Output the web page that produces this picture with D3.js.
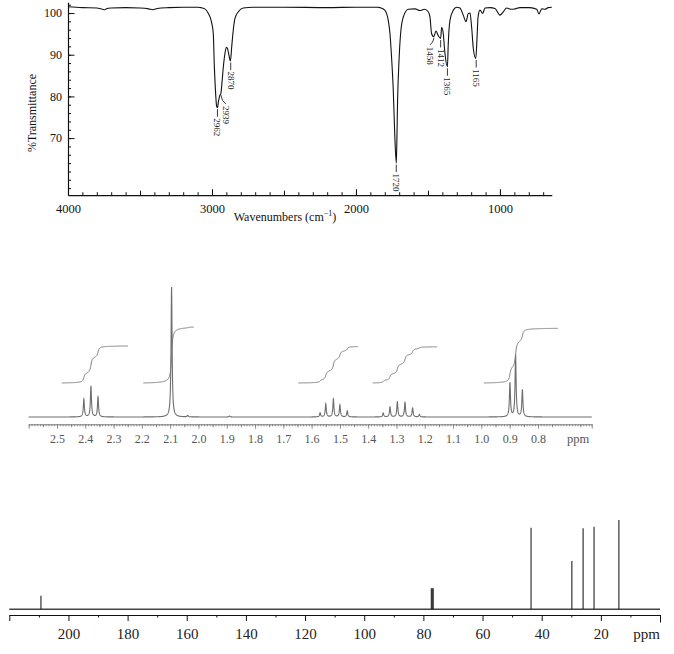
<!DOCTYPE html>
<html><head><meta charset="utf-8">
<script src="https://cdn.jsdelivr.net/npm/d3@7"></script>
<style>
body{margin:0;background:#fff}
svg{display:block}
text{font-family:"Liberation Serif","Times New Roman",serif}
</style>
</head><body>
<svg id="c" width="674" height="654"></svg>
<script>
// ---------------- DATA ----------------
// IR spectrum: [wavenumber cm-1, %T]
const irSpectrum = [
 [4000,101.5],[3900,101.3],[3800,101.2],[3760,100.9],[3745,100.8],[3730,101.1],[3700,101.2],
 [3600,101.3],[3500,101.2],[3440,101.0],[3410,100.8],[3380,101.1],[3300,101.3],[3200,101.4],
 [3100,101.4],[3080,101.3],[3050,101.0],[3025,99.9],[3010,98.7],[3000,97.3],[2991,95.1],
 [2984,87.5],[2975,80.9],[2968,77.7],[2962,77.3],[2955,78.8],[2945,80.3],[2939,80.6],
 [2930,83.5],[2921,87.1],[2910,90.3],[2900,91.8],[2892,91.5],[2884,90.2],[2872,88.5],
 [2863,91.9],[2852,96.0],[2840,98.8],[2817,100.3],[2783,101.2],[2713,101.4],[2500,101.4],
 [2200,101.3],[2000,101.4],[1850,101.4],[1833,101.3],[1800,100.7],[1776,98.3],[1764,95.1],
 [1753,89.5],[1741,81.5],[1731,71.1],[1720,64.0],[1716,69.5],[1711,79.1],[1701,88.7],
 [1690,95.1],[1671,99.1],[1637,100.9],[1590,101.0],[1556,100.6],[1525,100.9],[1498,100.3],
 [1486,99.0],[1475,95.1],[1460,94.3],[1444,95.7],[1429,94.6],[1412,93.9],[1405,96.6],
 [1394,95.1],[1382,90.3],[1365,87.1],[1359,92.7],[1347,98.3],[1324,100.7],[1301,101.4],
 [1278,101.2],[1255,99.5],[1236,97.9],[1220,99.9],[1208,100.0],[1197,96.7],[1185,91.5],
 [1168,89.1],[1160,93.5],[1152,99.1],[1139,100.7],[1120,99.9],[1104,101.2],[1069,101.3],
 [1035,101.1],[1000,99.5],[977,100.3],[954,101.2],[919,100.9],[896,101.0],[861,101.3],
 [792,101.3],[745,100.9],[729,99.8],[710,101.0],[688,100.9],[665,101.3],[640,101.4]
];
const irPeakLabels = [2962, 2939, 2870, 1720, 1458, 1412, 1365, 1165];
const irPeakT      = [77.3, 80.6, 88.5, 64.0, 94.3, 93.9, 87.1, 89.1];
const irXTickLabels = [4000, 3000, 2000, 1000];
const irYTickLabels = [100, 90, 80, 70];

// 1H NMR: peak positions (ppm) and relative intensities
const hPpm = [2.405,2.380,2.355,2.095,2.038,1.890,1.570,1.550,1.523,1.500,1.474,
              1.347,1.323,1.297,1.270,1.243,1.219,0.899,0.879,0.855];
const hInt = [13.8,23.8,15.4,100,1.2,0.7,3.1,10,13.8,9.2,4.6,
              3.1,7.7,11.5,11.5,6.9,1.9,26,47.7,20.8];
// integral traces: ppm range and start / end levels (same intensity units)
const hIntegralFrom  = [2.483, 2.195, 1.647, 1.384, 0.991];
const hIntegralTo    = [2.249, 2.016, 1.436, 1.156, 0.729];
const hIntegralStart = [26.2, 26.2, 26.2, 26.2, 26.2];
const hIntegralEnd   = [54.6, 69.2, 54.2, 54.0, 68.2];
const hTickLabels = [2.5,2.4,2.3,2.2,2.1,2.0,1.9,1.8,1.7,1.6,1.5,1.4,1.3,1.2,1.1,1.0,0.9,0.8];

// 13C NMR
const cPpm = [209.3, 77.32, 77.0, 76.68, 43.6, 29.8, 26.0, 22.3, 13.9];
const cInt = [15.2, 23.5, 23.5, 23.5, 91.4, 54.1, 90.7, 92.5, 100];
const cTickLabels = [200,180,160,140,120,100,80,60,40,20];

// ---------------- DRAW ----------------
const svg = d3.select("#c");
const serif = '"Liberation Serif","Times New Roman",serif';

function styleAxis(g, color, size, textColor){
  g.attr("font-family", serif).attr("font-size", size);
  g.selectAll("line").attr("stroke", color);
  g.selectAll("path").attr("stroke", color);
  g.selectAll("text").attr("fill", textColor || color);
}

// ===== IR =====
const irX = d3.scaleLinear().domain([4000, 640]).range([68, 551.8]);
const irY = d3.scaleLinear().domain([56.3, 102.6]).range([195.2, 2.2]);
const gIR = svg.append("g");

const ax100 = d3.range(3900, 640, -100);
const ax500 = d3.range(3500, 640, -500);
// x axis
const irXa = gIR.append("g").attr("transform", `translate(0,${irY(56.3)})`);
irXa.append("g").call(d3.axisBottom(irX).tickValues(ax100).tickSize(-3).tickSizeOuter(0).tickFormat(""))
    .call(g=>styleAxis(g,"#111",12));
irXa.append("g").call(d3.axisBottom(irX).tickValues(ax500).tickSize(-4.5).tickSizeOuter(0).tickFormat(""))
    .call(g=>{g.select(".domain").remove(); styleAxis(g,"#111",12);});
irXa.append("g").call(d3.axisBottom(irX).tickValues(irXTickLabels).tickSize(-6).tickSizeOuter(0).tickPadding(9).tickFormat(d3.format("d")))
    .call(g=>{g.select(".domain").remove(); styleAxis(g,"#111",12.5);});
irXa.selectAll("path.domain").attr("stroke-width",1.2);

// y axis
const irYa = gIR.append("g").attr("transform", `translate(${irX(4000)},0)`);
irYa.append("g").call(d3.axisLeft(irY).tickValues(d3.range(58, 103, 2)).tickSize(-3).tickSizeOuter(0).tickFormat(""))
    .call(g=>styleAxis(g,"#111",12));
irYa.append("g").call(d3.axisLeft(irY).tickValues(irYTickLabels).tickSize(-6.5).tickSizeOuter(0).tickPadding(6).tickFormat(d3.format("d")))
    .call(g=>{g.select(".domain").remove(); styleAxis(g,"#111",12);});
irYa.selectAll("path.domain").attr("stroke-width",1.2);

// spectrum
const irPts = irSpectrum.map(d=>[irX(d[0]), irY(d[1])]).sort((a,b)=>a[0]-b[0]);
gIR.append("path").attr("d", d3.line().curve(d3.curveMonotoneX)(irPts))
   .attr("fill","none").attr("stroke","#111").attr("stroke-width",1.1);

// peak labels
const irLabelNudge = {2939:[5,12], 1458:[-4,10]};
irPeakLabels.forEach((wn,i)=>{
  const x = irX(wn), y = irY(irPeakT[i]);
  const n = irLabelNudge[wn] || [0,10.5];
  if (n[0] === 0) {
    gIR.append("line").attr("x1",x).attr("x2",x).attr("y1",y+1.5).attr("y2",y+n[1]-1.5)
       .attr("stroke","#222").attr("stroke-width",0.9);
  } else {
    gIR.append("path").attr("d",`M${x},${y+1}Q${x+n[0]*0.2},${y+n[1]*0.6} ${x+n[0]},${y+n[1]-2}`)
       .attr("fill","none").attr("stroke","#222").attr("stroke-width",0.9);
  }
  gIR.append("text").attr("transform",`translate(${x+n[0]},${y+n[1]}) rotate(90)`)
     .attr("text-anchor","start").attr("dominant-baseline","central")
     .attr("font-size",9).attr("fill","#222").text(wn);
});

gIR.append("text").attr("transform",`translate(36,113) rotate(-90)`)
   .attr("text-anchor","middle").attr("font-size",12).attr("fill","#111").text("%Transmittance");
const wt = gIR.append("text").attr("x",285).attr("y",221).attr("text-anchor","middle")
   .attr("font-size",12).attr("fill","#111");
wt.append("tspan").text("Wavenumbers (cm");
wt.append("tspan").attr("font-size",8).attr("dy",-5).text("−1");
wt.append("tspan").attr("dy",5).text(")");

// ===== 1H NMR =====
const hX = d3.scaleLinear().domain([2.6, 0.61]).range([28.7, 591.7]);
const hY = d3.scaleLinear().domain([0, 100]).range([417, 287]);
const gH = svg.append("g");
const hAxisY = 424.3;
const hAx = gH.append("g").attr("transform",`translate(0,${hAxisY})`);
hAx.append("g").call(d3.axisBottom(hX).tickValues(d3.range(2.6, 0.605, -0.01)).tickSize(2).tickSizeOuter(0).tickFormat(""))
   .call(g=>styleAxis(g,"#777",12));
hAx.append("g").call(d3.axisBottom(hX).tickValues(d3.range(2.55, 0.6, -0.1)).tickSize(3).tickSizeOuter(0).tickFormat(""))
   .call(g=>{g.select(".domain").remove(); styleAxis(g,"#777",12);});
hAx.append("g").call(d3.axisBottom(hX).tickValues([2.6, 0.61]).tickSize(4.5).tickSizeOuter(0).tickFormat(""))
   .call(g=>{g.select(".domain").remove(); styleAxis(g,"#777",12);});
hAx.append("g").call(d3.axisBottom(hX).tickValues(hTickLabels).tickSize(4.5).tickSizeOuter(0).tickPadding(5.5).tickFormat(d3.format(".1f")))
   .call(g=>{g.select(".domain").remove(); styleAxis(g,"#777",12,"#555");});
hAx.selectAll("line").attr("stroke-width",0.8);
gH.append("text").attr("x",578).attr("y",443).attr("text-anchor","middle").attr("font-size",12.5).attr("fill","#555").text("ppm");

const W = 0.0022;
function lor(x, x0, w){ return w*w/(w*w+(x-x0)*(x-x0)); }
const grid = d3.range(2.6, 0.6095, -0.0004).concat(hPpm).sort((a,b)=>b-a);
const hLine = grid.map(p=>[hX(p), hY(d3.sum(hPpm, (x0,i)=>hInt[i]*lor(p,x0,W)))]);
gH.append("path").attr("d", d3.line()(hLine)).attr("fill","none").attr("stroke","#6e6e6e").attr("stroke-width",1.1);

// integrals
const WI = 0.0032;
hIntegralFrom.forEach((from,k)=>{
  const to = hIntegralTo[k];
  const idx = hPpm.map((p,i)=>i).filter(i=>hPpm[i]<=from && hPpm[i]>=to);
  const F = p => d3.sum(idx, i=>hInt[i]*(0.5 - Math.atan((p-hPpm[i])/WI)/Math.PI));
  const f0 = F(from), f1 = F(to);
  const pts = d3.range(from, to-0.0001, -0.0007).map(p=>{
    const v = hIntegralStart[k] + (hIntegralEnd[k]-hIntegralStart[k])*(F(p)-f0)/(f1-f0);
    return [hX(p), hY(v)];
  });
  gH.append("path").attr("d", d3.line()(pts)).attr("fill","none").attr("stroke","#7a7a7a").attr("stroke-width",1);
});

// ===== 13C NMR =====
const cX = d3.scaleLinear().domain([220, 0]).range([9.3, 660]);
const cY = d3.scaleLinear().domain([0, 100]).range([609.3, 520]);
const gC = svg.append("g");
const cAx = gC.append("g").attr("transform","translate(0,615)");
cAx.append("g").call(d3.axisBottom(cX).tickValues(d3.range(210, 0, -20)).tickSize(2.5).tickSizeOuter(0).tickFormat(""))
   .call(g=>styleAxis(g,"#111",15));
cAx.append("g").call(d3.axisBottom(cX).tickValues([220]).tickSize(6).tickSizeOuter(0).tickFormat(""))
   .call(g=>{g.select(".domain").remove(); styleAxis(g,"#111",15);});
cAx.append("g").call(d3.axisBottom(cX).tickValues([0]).tickSize(7.5).tickSizeOuter(0).tickFormat(""))
   .call(g=>{g.select(".domain").remove(); styleAxis(g,"#111",15);});
cAx.append("g").call(d3.axisBottom(cX).tickValues(cTickLabels).tickSize(6).tickSizeOuter(0).tickPadding(7).tickFormat(d3.format("d")))
   .call(g=>{g.select(".domain").remove(); styleAxis(g,"#111",15,"#222");});
cAx.selectAll("path.domain").attr("stroke-width",1.2);
cAx.selectAll("line").attr("stroke-width",1);
gC.append("text").attr("x",646.5).attr("y",638.5).attr("text-anchor","middle").attr("font-size",15).attr("fill","#222").text("ppm");

gC.append("line").attr("x1",cX(220)).attr("x2",cX(0)).attr("y1",cY(0)).attr("y2",cY(0))
  .attr("stroke","#444").attr("stroke-width",1.4);
gC.selectAll("line.pk").data(cPpm).join("line").attr("class","pk")
  .attr("x1",d=>cX(d)).attr("x2",d=>cX(d)).attr("y1",cY(0)).attr("y2",(d,i)=>cY(cInt[i]))
  .attr("stroke","#222").attr("stroke-width",1.1);
</script>
</body></html>
